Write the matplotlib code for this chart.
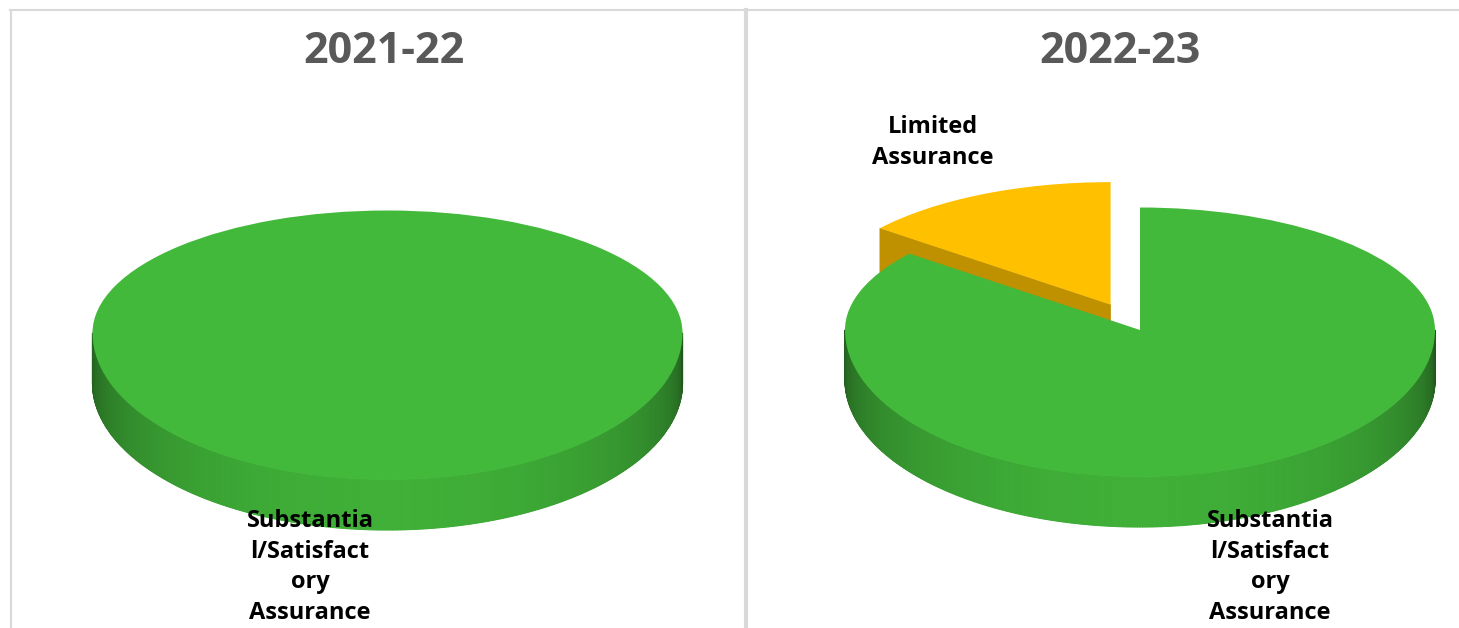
import numpy as np
import matplotlib
matplotlib.use("Agg")
import matplotlib.pyplot as plt
from matplotlib.collections import PolyCollection
from matplotlib.patches import Polygon
from matplotlib.lines import Line2D
from matplotlib.colors import to_rgb

# ---------------- data ----------------
years = ["2021-22", "2022-23"]
categories = ["Substantial/Satisfactory Assurance", "Limited Assurance"]
label_lines = {
    "Substantial/Satisfactory Assurance": ["Substantia", "l/Satisfact", "ory", "Assurance"],
    "Limited Assurance": ["Limited", "Assurance"],
}
values_2122 = [7, 0]
values_2223 = [6, 1]
colors = {"Substantial/Satisfactory Assurance": "#43B93B", "Limited Assurance": "#FFC000"}
explode_amount = {"Substantial/Satisfactory Assurance": 0.0, "Limited Assurance": 0.23}

# ---------------- layout (pixels) ----------------
W, H, DPI = 1459, 628, 100
A = 295.0        # horizontal radius px
Bb, Bf = 122.5, 147.0   # vertical radius back / front (perspective)
DEPTH = 50.0     # pie thickness px
pies = [
    dict(year=years[0], values=values_2122, cx=387.5, cy=333.0, title_x=384,
         label_pos={"Substantial/Satisfactory Assurance": (310, 527)}),
    dict(year=years[1], values=values_2223, cx=1140.0, cy=330.0, title_x=1120,
         label_pos={"Substantial/Satisfactory Assurance": (1270, 527),
                    "Limited Assurance": (933, 133)}),
]

FONT = ["Open Sans", "DejaVu Sans"]

fig = plt.figure(figsize=(W / DPI, H / DPI), dpi=DPI)
fig.patch.set_facecolor("white")


def fwd(y):
    y = np.asarray(y, dtype=float)
    return np.where(y >= 0, y * Bb, y * Bf)


def inv(Y):
    Y = np.asarray(Y, dtype=float)
    return np.where(Y >= 0, Y / Bb, Y / Bf)


def drop(y):
    return inv(fwd(y) - DEPTH)


def shade(base, s):
    base = np.array(to_rgb(base))
    dark = base * 0.46
    light = base * 0.95
    return dark + (light - dark) * (s ** 0.7)


for p in pies:
    ax = fig.add_axes([0, 0, 1, 1])
    ax.set_facecolor("none")
    ax.set_yscale("function", functions=(fwd, inv))
    cats = [c for c, v in zip(categories, p["values"]) if v > 0]
    vals = [v for v in p["values"] if v > 0]
    cols = [colors[c] for c in cats]
    expl = [explode_amount[c] if len(vals) > 1 else 0.0 for c in cats]
    wedges, _ = ax.pie(vals, colors=cols, explode=expl, startangle=90,
                       counterclock=False, wedgeprops=dict(linewidth=0))
    ax.set_aspect("auto")
    ax.set_xlim(-p["cx"] / A, (W - p["cx"]) / A)
    ax.set_ylim(float(inv(p["cy"] - H)), float(inv(p["cy"])))
    ax.axis("off")

    for w, c in zip(wedges, cols):
        w.set_zorder(3)
        t1, t2 = w.theta1, w.theta2
        ox, oy = w.center
        r = w.r
        # outer (curved) side, front-facing part only
        for k in range(-2, 3):
            a = max(t1, 180 + 360 * k)
            b = min(t2, 360 + 360 * k)
            if b <= a:
                continue
            ts = np.radians(np.linspace(a, b, 361))
            xs = ox + r * np.cos(ts)
            ys = oy + r * np.sin(ts)
            yb = drop(ys)
            outline = list(zip(xs, ys)) + list(zip(xs[::-1], yb[::-1]))
            base_col = shade(c, 0.75)
            ax.add_patch(Polygon(outline, closed=True, facecolor=base_col,
                                 edgecolor="none", zorder=1))
            quads, qcols = [], []
            for i in range(len(ts) - 1):
                quads.append([(xs[i], ys[i]), (xs[i + 1], ys[i + 1]),
                              (xs[i + 1], yb[i + 1]), (xs[i], yb[i])])
                tm = 0.5 * (ts[i] + ts[i + 1])
                qcols.append(shade(c, max(0.0, -np.sin(tm))))
            pc = PolyCollection(quads, facecolors=qcols, edgecolors=qcols,
                                linewidths=0.8, zorder=1.5)
            ax.add_collection(pc)
        # flat cut faces
        dark = np.array(to_rgb(c)) * 0.75
        for t, visible in ((t1, np.cos(np.radians(t1)) > 1e-6),
                           (t2, np.cos(np.radians(t2)) < -1e-6)):
            if not visible or len(vals) < 2:
                continue
            rx = ox + r * np.cos(np.radians(t))
            ry = oy + r * np.sin(np.radians(t))
            poly = Polygon([(ox, oy), (rx, ry), (rx, float(drop(ry))), (ox, float(drop(oy)))],
                           closed=True, facecolor=dark, edgecolor=dark, lw=0.5, zorder=2)
            ax.add_patch(poly)

    # title
    fig.text(p["title_x"] / W, 1 - 63 / H, p["year"], ha="center", va="baseline",
             fontsize=31, fontweight="bold", color="#595959", family=FONT)
    # labels
    for cat, (lx, ly) in p["label_pos"].items():
        for j, line in enumerate(label_lines[cat]):
            fig.text(lx / W, 1 - (ly + j * 30.7) / H, line, ha="center", va="baseline",
                     fontsize=17, fontweight="bold", color="black", family=FONT)

# frame lines
grey = "#D9D9D9"
fig.add_artist(Line2D([10 / W, 1], [1 - 9.5 / H, 1 - 9.5 / H], transform=fig.transFigure,
                      color=grey, lw=1.5))
fig.add_artist(Line2D([10.5 / W, 10.5 / W], [0, 1 - 9.5 / H], transform=fig.transFigure,
                      color=grey, lw=1.5))
fig.add_artist(Line2D([745.5 / W, 745.5 / W], [0, 1 - 9.5 / H], transform=fig.transFigure,
                      color=grey, lw=3.0))

fig.savefig("out.png", dpi=DPI, facecolor="white")
